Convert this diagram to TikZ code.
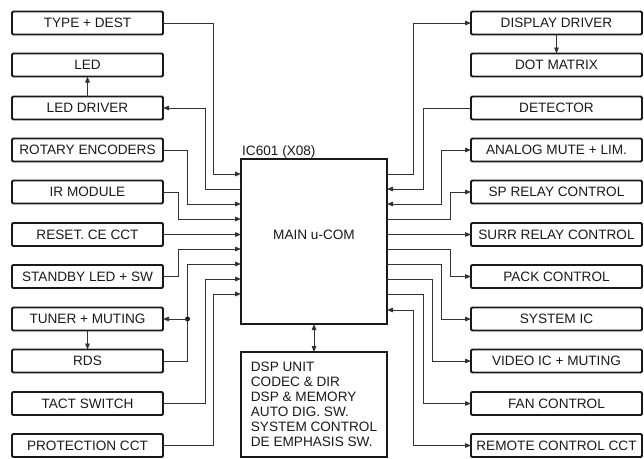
\documentclass[tikz,border=0pt]{standalone}
\usepackage{fontspec}
\setmainfont{Liberation Sans}
\usetikzlibrary{arrows.meta}
\begin{document}
\begin{tikzpicture}[x=1pt,y=-1pt,
  every node/.style={font=\fontsize{13.6}{15}\selectfont, text=black!90},
  box/.style={draw=black!90, line width=1.9pt, rounded corners=1.2pt, inner sep=0pt, outer sep=0pt},
  lbox/.style={box, minimum width=151pt, minimum height=23pt},
  rbox/.style={box, minimum width=171pt, minimum height=23pt},
  conn/.style={draw=black!80, line width=0.9pt},
  tip/.tip={Triangle[length=6pt,width=4.6pt]},
  dot/.style={circle, fill=black!90, inner sep=0pt, minimum size=5pt}
]
\useasboundingbox (0,0) rectangle (644,458);

% left boxes
\node[lbox] (type)   at (87.5,23)    {TYPE + DEST};
\node[lbox] (led)    at (87.5,65)    {LED};
\node[lbox] (leddrv) at (87.5,108)   {LED DRIVER};
\node[lbox] (rot)    at (87.5,150)   {ROTARY ENCODERS};
\node[lbox] (ir)     at (87.5,192)   {IR MODULE};
\node[lbox] (reset)  at (87.5,234.5) {RESET. CE CCT};
\node[lbox] (stby)   at (87.5,276.5) {STANDBY LED + SW};
\node[lbox] (tuner)  at (87.5,319)   {TUNER + MUTING};
\node[lbox] (rds)    at (87.5,361)   {RDS};
\node[lbox] (tact)   at (87.5,403.5) {TACT SWITCH};
\node[lbox] (prot)   at (87.5,445.5) {PROTECTION CCT};

% right boxes
\node[rbox] (disp)   at (556.5,23)    {DISPLAY DRIVER};
\node[rbox] (dotm)   at (556.5,65)    {DOT MATRIX};
\node[rbox] (det)    at (556.5,108)   {DETECTOR};
\node[rbox] (analog) at (556.5,150)   {ANALOG MUTE + LIM.};
\node[rbox] (sp)     at (556.5,192)   {SP RELAY CONTROL};
\node[rbox] (surr)   at (556.5,234.5) {SURR RELAY CONTROL};
\node[rbox] (pack)   at (556.5,276.5) {PACK CONTROL};
\node[rbox] (sys)    at (556.5,319)   {SYSTEM IC};
\node[rbox] (video)  at (556.5,361)   {VIDEO IC + MUTING};
\node[rbox] (fan)    at (556.5,403.5) {FAN CONTROL};
\node[rbox] (remote) at (556.5,445.5) {REMOTE CONTROL CCT};

% main
\node[box, rounded corners=0pt, minimum width=146pt, minimum height=165pt] (main) at (314,241.5) {};
\node (mainlbl) at (314,235) {MAIN u-COM};
\node[anchor=base west, inner sep=0pt] (iclbl) at (242,155) {IC601 (X08)};

% DSP
\node[box, rounded corners=0pt, minimum width=146pt, minimum height=105pt, align=left] (dsp) at (314,404.5)
 {DSP UNIT\\CODEC \& DIR\\DSP \& MEMORY\\AUTO DIG. SW.\\SYSTEM CONTROL\\DE EMPHASIS SW.};

% vertical links
\draw[conn,-tip] (leddrv.north) -- (led.south);
\draw[conn,-tip] (tuner.south) -- (rds.north);
\draw[conn,-tip] (disp.south) -- (dotm.north);
\draw[conn,tip-tip] (main.south) -- (dsp.north);

% left connectors
\draw[conn,-tip] (type.east) -| (213,174) -- (main.west |- 0,174);
\draw[conn,-tip] (main.west |- 0,189) -- (205,189) |- (leddrv.east);
\draw[conn,-tip] (rot.east) -| (187,204) -- (main.west |- 0,204);
\draw[conn,-tip] (ir.east) -| (178,219) -- (main.west |- 0,219);
\draw[conn,-tip] (reset.east) -- (main.west |- reset.east);
\draw[conn,-tip] (stby.east) -| (178,249) -- (main.west |- 0,249);
\draw[conn,-tip] (rds.east) -| (187.5,264) -- (main.west |- 0,264);
\node[dot] (jn) at (187.5,319) {};
\draw[conn,-tip] (jn.center) -- (tuner.east);
\draw[conn,-tip] (tact.east) -| (205,279) -- (main.west |- 0,279);
\draw[conn,-tip] (prot.east) -| (213,294) -- (main.west |- 0,294);

% right connectors
\draw[conn,-tip] (main.east |- 0,174) -- (413,174) |- (disp.west);
\draw[conn,-tip] (det.west) -| (423,189) -- (main.east |- 0,189);
\draw[conn,tip-tip] (main.east |- 0,204) -- (441,204) |- (analog.west);
\draw[conn,-tip] (main.east |- 0,219) -- (450,219) |- (sp.west);
\draw[conn,-tip] (main.east |- surr.west) -- (surr.west);
\draw[conn,-tip] (main.east |- 0,249) -- (450,249) |- (pack.west);
\draw[conn,-tip] (main.east |- 0,264) -- (441,264) |- (sys.west);
\draw[conn,-tip] (main.east |- 0,279) -- (432,279) |- (video.west);
\draw[conn,-tip] (main.east |- 0,294) -- (423,294) |- (fan.west);
\draw[conn,tip-tip] (main.east |- 0,310) -- (413,310) |- (remote.west);
\end{tikzpicture}
\end{document}
